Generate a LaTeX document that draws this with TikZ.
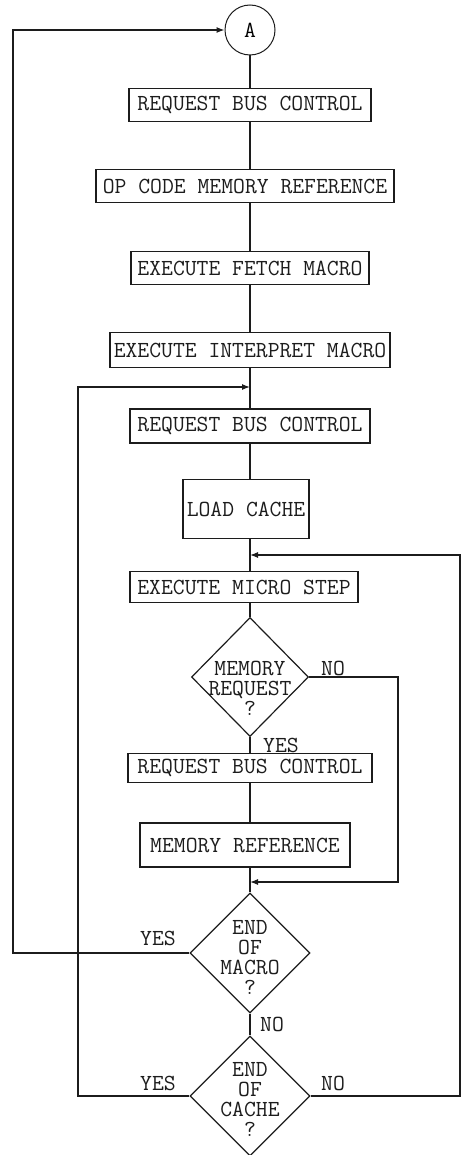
\documentclass[tikz,border=0pt]{standalone}
\usepackage{fontspec}
\usepackage{xcolor}
\usepackage{tikz}
\usetikzlibrary{arrows.meta, shapes.geometric, calc}
\definecolor{ink}{HTML}{1C1C1C}

\tikzset{
  flowbox/.style={draw=ink, line width=0.6pt, inner sep=0pt, text=ink, font=\ttfamily\fontsize{11.5}{10}\selectfont},
  decision/.style={draw=ink, line width=0.6pt, diamond, inner sep=0pt, minimum width=60pt, minimum height=60pt},
  dtext/.style={align=center, inner sep=0pt, text=ink, font=\ttfamily\fontsize{11.5}{10}\selectfont},
  lbl/.style={inner sep=0pt, text=ink, font=\ttfamily\fontsize{11.5}{10}\selectfont},
  wire/.style={draw=ink, line width=0.6pt},
  back/.style={wire, -{Latex[length=4pt, width=3pt]}}
}

\begin{document}
\begin{tikzpicture}[x=0.5pt, y=-0.5pt]
      \useasboundingbox (0,0) rectangle (462,1155);
      \node[draw=ink, line width=0.5pt, circle, minimum size=25pt, inner sep=0pt, font=\ttfamily\fontsize{11.5}{10}\selectfont] (A) at (250,30) {A};
      \node[flowbox, minimum width=121pt, minimum height=16.5pt] (b1) at (250,105) {REQUEST BUS CONTROL};
      \node[flowbox, minimum width=149pt, minimum height=16.5pt] (b2) at (245,186) {OP CODE MEMORY REFERENCE};
      \node[flowbox, minimum width=119pt, minimum height=16.5pt] (b3) at (250,268) {EXECUTE FETCH MACRO};
      \node[flowbox, minimum width=140pt, minimum height=17.5pt] (b4) at (250,350) {EXECUTE INTERPRET MACRO};
      \node[flowbox, minimum width=120pt, minimum height=17pt] (b5) at (250,426) {REQUEST BUS CONTROL};
      \node[flowbox, minimum width=63pt, minimum height=29.5pt] (b6) at (246,509) {LOAD CACHE};
      \node[flowbox, minimum width=114pt, minimum height=15.5pt] (b7) at (244,587) {EXECUTE MICRO STEP};
      \node[decision, minimum width=58.5pt, minimum height=59.5pt] (d1) at (250,677) {};
      \node[dtext] (t1) at (250,688) {MEMORY\\REQUEST\\?};
      \node[flowbox, minimum width=122pt, minimum height=14.5pt] (b8) at (250,768) {REQUEST BUS CONTROL};
      \node[flowbox, minimum width=105pt, minimum height=22pt] (b9) at (245,845) {MEMORY REFERENCE};
      \node[decision] (d2) at (250,953) {};
      \node[dtext] (t2) at (250,957) {END\\OF\\MACRO\\?};
      \node[decision] (d3) at (250,1096) {};
      \node[dtext] (t3) at (250,1099) {END\\OF\\CACHE\\?};

      \coordinate (j1) at (250,387);
      \coordinate (j2) at (250,555);
      \coordinate (j3) at (250,882);
      \coordinate (lft1) at (13,30);
      \coordinate (lft2) at (78,387);
      \coordinate (rgt1) at (398,882);
      \coordinate (rgt2) at (460,555);

      \draw[wire] (A) -- (A |- b1.north);
      \draw[wire] (b1.south -| A) -- (b2.north -| A);
      \draw[wire] (b2.south -| A) -- (b3.north -| A);
      \draw[wire] (b3.south -| A) -- (b4.north -| A);
      \draw[wire] (b4.south -| A) -- (b5.north -| A);
      \draw[wire] (b5.south -| A) -- (b6.north -| A);
      \draw[wire] (b6.south -| A) -- (b7.north -| A);
      \draw[wire] (b7.south -| A) -- (d1);
      \draw[wire] (d1) -- (b8.north -| A);
      \draw[wire] (b8.south -| A) -- (b9.north -| A);
      \draw[wire] (b9.south -| A) -- (d2);
      \draw[wire] (d2) -- (d3);

      \draw[back] (d2.west) -| (lft1) -- (A);
      \draw[back] (d3.west) -| (lft2) -- (j1);
      \draw[back] (d3.east) -| (rgt2) -- (j2);
      \draw[back] (d1.east) -| (rgt1) -- (j3);

      \node[lbl] (no1) at (333,668) {NO};
      \node[lbl] (yes1) at (281,745) {YES};
      \node[lbl] (yes2) at (158,938) {YES};
      \node[lbl] (no2) at (272,1024) {NO};
      \node[lbl] (yes3) at (158,1083) {YES};
      \node[lbl] (no3) at (333,1083) {NO};
    \end{tikzpicture}
\end{document}
